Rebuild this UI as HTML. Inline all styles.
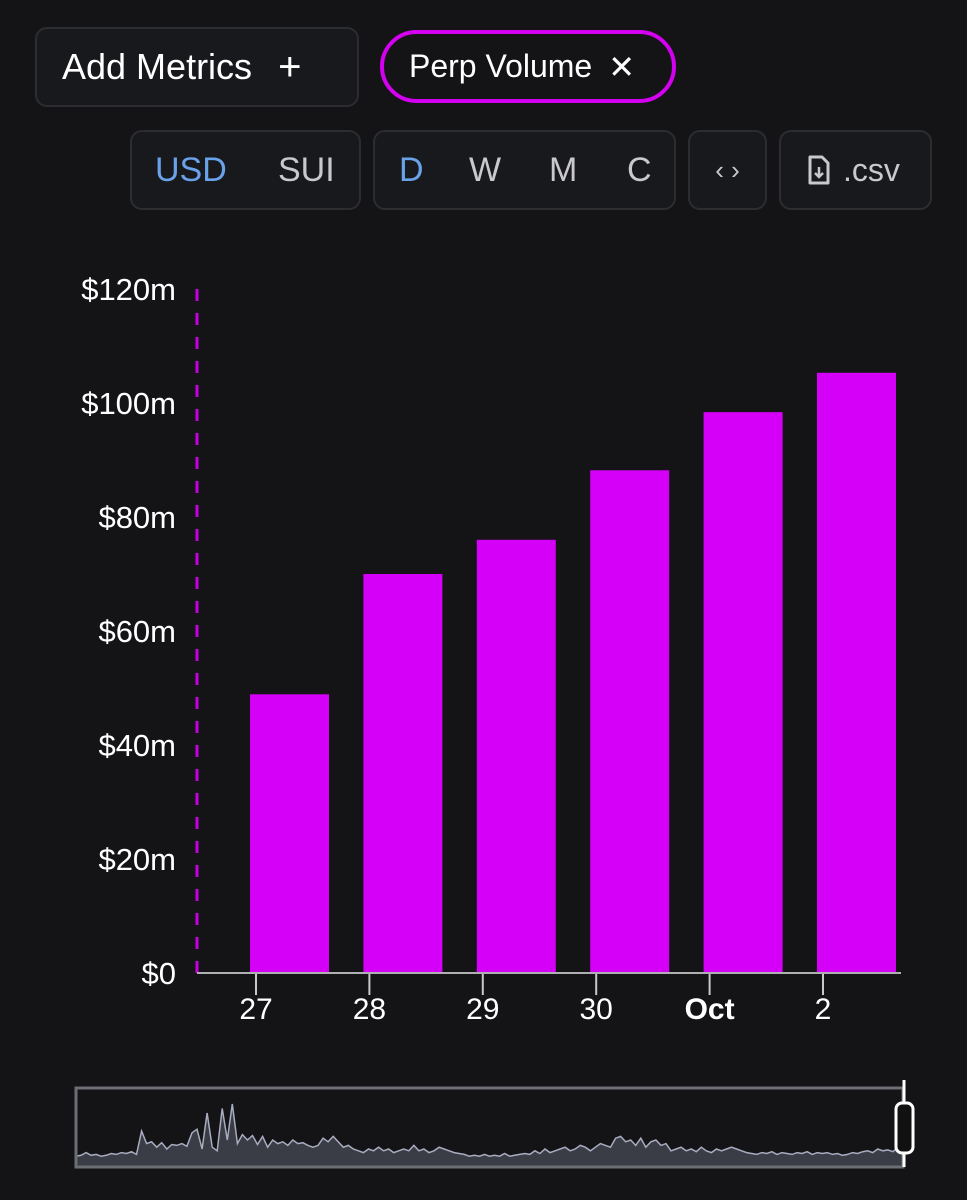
<!DOCTYPE html>
<html><head><meta charset="utf-8"><style>
html,body{margin:0;padding:0;background:#141417;}
body{width:967px;height:1200px;position:relative;overflow:hidden;font-family:"Liberation Sans",sans-serif;}
.btn{position:absolute;border:2px solid #2c2d31;border-radius:12px;background:#18191c;box-sizing:border-box;color:#c9c9cc;font-size:34px;display:flex;align-items:center;}
</style></head><body>
<div class="btn" style="left:35px;top:27px;width:324px;height:80px;color:#fff;padding-left:25px;font-size:36px;">Add Metrics<span style="margin-left:26px;font-size:40px;">+</span></div>
<div class="btn" style="left:380px;top:30px;width:296px;height:73px;border:4px solid #d400f0;border-radius:37px;background:#141417;color:#fff;padding-left:25px;font-size:32px;">Perp Volume<span style="margin-left:16px;">✕</span></div>
<div class="btn" style="left:130px;top:130px;width:231px;height:80px;">
 <span style="position:absolute;left:23px;color:#6aa2ea;">USD</span>
 <span style="position:absolute;left:146px;">SUI</span></div>
<div class="btn" style="left:373px;top:130px;width:303px;height:80px;">
 <span style="position:absolute;left:24px;color:#6aa2ea;">D</span>
 <span style="position:absolute;left:94px;">W</span>
 <span style="position:absolute;left:174px;">M</span>
 <span style="position:absolute;left:252px;">C</span></div>
<div class="btn" style="left:688px;top:130px;width:79px;height:80px;justify-content:center;font-size:26px;">‹ ›</div>
<div class="btn" style="left:779px;top:130px;width:153px;height:80px;padding-left:26px;font-size:32px;">
 <svg width="24" height="30" viewBox="0 0 24 30" style="margin-right:12px"><path d="M3 2h12l6 6v20H3z" fill="none" stroke="#c9c9cc" stroke-width="3" stroke-linejoin="round"/><path d="M12 12v10M8 18l4 4 4-4" fill="none" stroke="#c9c9cc" stroke-width="2.5"/></svg>.csv</div>

<svg id="chart" width="967" height="1200" style="position:absolute;left:0;top:0"></svg>
<script>
const categories=["27","28","29","30","Oct","2"];
const values=[48.9,70,76,88.2,98.4,105.3];
const yTicks=[0,20,40,60,80,100,120];
const yTickLabels=["$0","$20m","$40m","$60m","$80m","$100m","$120m"];
const brushValues=[12,13,16,13,14,12,13,15,14,16,15,17,14,40,26,28,22,27,20,25,24,26,23,38,42,20,60,22,18,65,30,70,26,36,30,35,25,34,22,30,26,28,24,30,26,27,24,22,24,32,28,34,28,22,24,20,18,16,20,18,22,18,20,16,18,20,18,24,18,20,16,18,22,20,18,16,15,14,12,13,12,14,12,13,12,15,12,13,14,15,14,18,15,20,16,18,20,22,18,20,24,22,18,22,26,24,22,32,34,28,30,24,32,22,28,30,24,26,18,20,22,18,20,17,22,18,16,20,18,20,22,20,18,16,15,14,16,15,17,14,16,15,14,16,15,17,14,16,15,16,14,15,13,14,16,15,17,18,16,20,18,19,17,22,20];
const NS="http://www.w3.org/2000/svg";
const svg=document.getElementById('chart');
const y0=973,yTop=289,vMax=120;
const y=v=>y0-(v/vMax)*(y0-yTop);
const xL=199,band=113.4;
const xt=i=>xL+57+band*i;
const xb=i=>xt(i)+33.5;
function mk(t,a){const e=document.createElementNS(NS,t);for(const k in a)e.setAttribute(k,a[k]);svg.appendChild(e);return e;}
let l=mk('line',{x1:197,x2:197,y1:yTop,y2:y0,stroke:'#c400e0','stroke-width':3,'stroke-dasharray':'12 12'});


yTicks.forEach((t,i)=>{const e=mk('text',{x:176,y:y(t)+11,'text-anchor':'end',fill:'#fff','font-size':31,'font-family':'Liberation Sans, sans-serif'});e.textContent=yTickLabels[i];

});
values.forEach((v,i)=>{const b=mk('rect',{x:xb(i)-39.5,y:y(v),width:79,height:y0-y(v),fill:'#d400f7'});


const tk=mk('line',{x1:xt(i),x2:xt(i),y1:y0,y2:y0+22,stroke:'#c9c9cc','stroke-width':2});


const t=mk('text',{x:xt(i),y:1019,'text-anchor':'middle',fill:'#fff','font-size':30,'font-weight':categories[i]==='Oct'?'bold':'normal','font-family':'Liberation Sans, sans-serif'});t.textContent=categories[i];

});
let ax=mk('line',{x1:197,x2:901,y1:y0,y2:y0,stroke:'#b0b0b4','stroke-width':2});


const bx0=76,bx1=903,by0=1088,by1=1167;
const bxs=i=>bx0+(bx1-bx0)*i/(brushValues.length-1);
const bys=v=>by1-v*0.9;
let d='M'+bx0+' '+by1;brushValues.forEach((v,i)=>d+=' L'+bxs(i).toFixed(1)+' '+bys(v).toFixed(1));
let area=mk('path',{d:d+' L'+bx1+' '+by1+' Z',fill:'#3a3d45'});


let ln=mk('path',{d:'M'+d.slice(d.indexOf('L')+1),fill:'none',stroke:'#a9acc0','stroke-width':1.5});


let br=mk('rect',{x:bx0,y:by0,width:bx1-bx0,height:by1-by0,fill:'none',stroke:'#6c6e73','stroke-width':3});


let hl=mk('line',{x1:904,x2:904,y1:1080,y2:1167,stroke:'#fff','stroke-width':3});


let h=mk('rect',{x:896,y:1103,width:17,height:50,rx:6,fill:'#111',stroke:'#fff','stroke-width':3});


</script>
</body></html>
